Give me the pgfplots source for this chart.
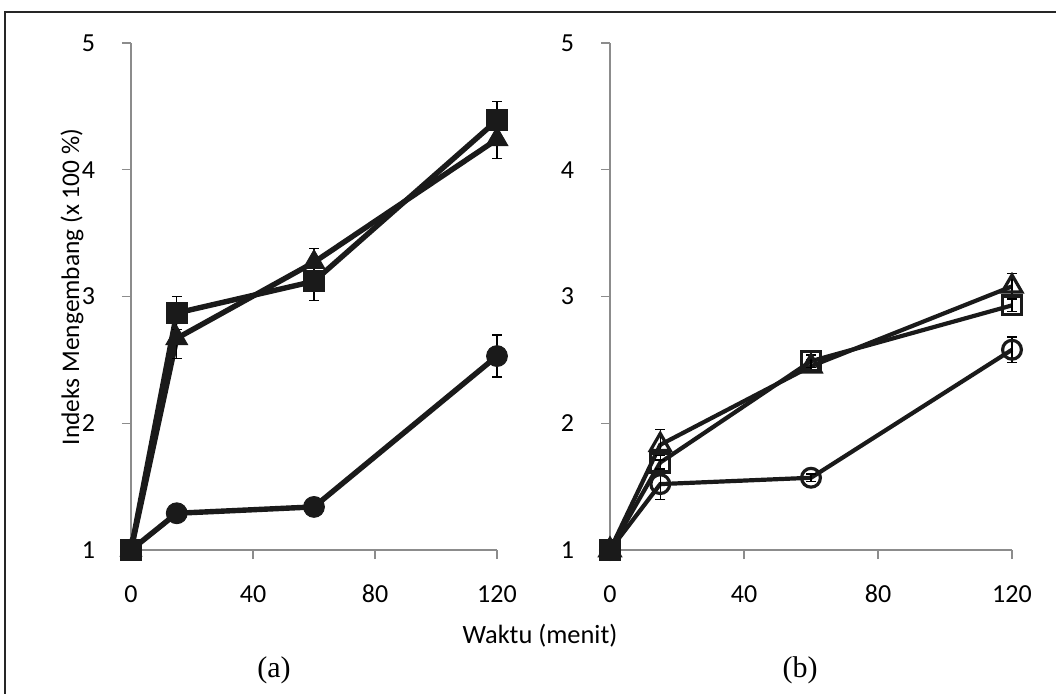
\documentclass[border=0pt]{standalone}
\usepackage{fontspec}
\setmainfont{Carlito}
\newfontfamily\serif{Liberation Serif}
\usepackage{pgfplots}
\pgfplotsset{compat=1.18}
\definecolor{ln}{HTML}{1A1A1A}
\definecolor{ax}{HTML}{8C8C8C}
\pgfplotsset{
  myaxis/.style={
    scale only axis, height=253.5pt,
    axis x line=bottom, axis y line=left,
    axis line style={ax, line width=0.7pt, -},
    tick style={ax, line width=0.7pt},
    major tick length=4.5pt, tick align=outside,
    xmin=0, xmax=120, ymin=1, ymax=5,
    xtick={0,40,80,120}, ytick={1,2,3,4,5},
    ticklabel style={font=\fontsize{13}{15}\selectfont, inner sep=0pt},
    yticklabel style={anchor=east, xshift=-13.3pt},
    xticklabel style={anchor=base, yshift=-21.5pt},
    /pgf/number format/assume math mode=true,
    clip=false,
  },
  errb/.style={draw=none, no marks, forget plot,
    error bars/.cd, y dir=both, y explicit,
    error bar style={black, line width=0.7pt},
    error mark options={rotate=90, mark size=2.5pt, line width=0.7pt, black}},
}
\begin{document}
\begin{tikzpicture}[x=0.5pt,y=0.5pt]
\useasboundingbox (0,0) rectangle (1056,693);
\draw[line width=0.8pt, black!85] (5,-20) -- (5,681) -- (1090,681);

% ---------- panel (a) ----------
\begin{axis}[myaxis, at={(65.5pt,71.5pt)}, anchor=south west, width=183pt]
\addplot[ln, line width=2.7pt, mark=*, mark size=5.2pt, mark options={solid, fill=ln, draw=ln, line width=0.5pt}]
  coordinates {(0,1) (15,1.29) (60,1.34) (120,2.53)};
\addplot[ln, line width=2.7pt, mark=triangle*, mark size=6.2pt, mark options={solid, fill=ln, draw=ln, line width=0.5pt}]
  coordinates {(0,1) (15,2.67) (60,3.27) (120,4.24)};
\addplot[ln, line width=2.7pt, mark=square*, mark size=5.2pt, mark options={solid, fill=ln, draw=ln, line width=0.5pt}]
  coordinates {(0,1) (15,2.87) (60,3.12) (120,4.39)};
\addplot[errb] table[x=x, y=y, y error=e] {
x y e
15 1.29 0.03
60 1.34 0.03
120 2.53 0.165
};
\addplot[errb] table[x=x, y=y, y error=e] {
x y e
15 2.67 0.16
60 3.27 0.11
120 4.24 0.15
};
\addplot[errb] table[x=x, y=y, y error=e] {
x y e
15 2.87 0.13
60 3.12 0.15
120 4.39 0.15
};
\end{axis}

% ---------- panel (b) ----------
\begin{axis}[myaxis, at={(305pt,71.5pt)}, anchor=south west, width=201pt]
\addplot[ln, line width=2.1pt, mark=o, mark size=4.7pt, mark options={solid, fill=white, draw=ln, line width=1.6pt}]
  coordinates {(0,1) (15,1.52) (60,1.57) (120,2.58)};
\addplot[ln, line width=2.1pt, mark=triangle, mark size=5.7pt, mark options={solid, fill=white, draw=ln, line width=1.6pt}]
  coordinates {(0,1) (15,1.83) (60,2.45) (120,3.08)};
\addplot[ln, line width=2.1pt, mark=square, mark size=4.7pt, mark options={solid, fill=white, draw=ln, line width=1.6pt}]
  coordinates {(0,1) (15,1.69) (60,2.49) (120,2.93)};
\addplot[only marks, forget plot, mark=square*, mark size=4.9pt, mark options={fill=ln, draw=ln, line width=0.5pt}]
  coordinates {(0,1)};
\addplot[errb] table[x=x, y=y, y error=e] {
x y e
15 1.52 0.12
60 1.57 0.03
120 2.58 0.1
};
\addplot[errb] table[x=x, y=y, y error=e] {
x y e
15 1.83 0.12
60 2.45 0.05
120 3.08 0.1
};
\addplot[errb] table[x=x, y=y, y error=e] {
x y e
15 1.69 0.06
60 2.49 0.05
120 2.93 0.05
};
\end{axis}

% ---------- labels ----------
\node[rotate=90, font=\fontsize{12.7}{15}\selectfont] at (72,406) {Indeks Mengembang (x 100 \%)};
\node[anchor=base, font=\fontsize{13.2}{15}\selectfont] at (540,50) {Waktu (menit)};
\node[anchor=base, font=\serif\fontsize{15}{18}\selectfont] at (274,16) {(a)};
\node[anchor=base, font=\serif\fontsize{15}{18}\selectfont] at (800,16) {(b)};
\end{tikzpicture}
\end{document}
